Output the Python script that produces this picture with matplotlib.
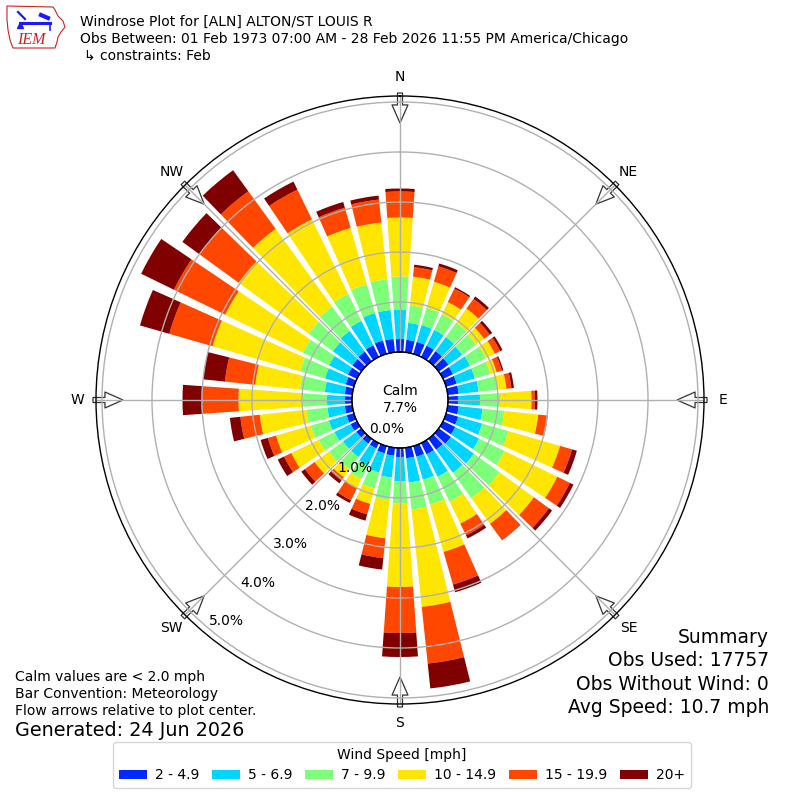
import numpy as np
import matplotlib
matplotlib.use("Agg")
import matplotlib.pyplot as plt
from matplotlib.patches import Patch, Polygon
from matplotlib.transforms import offset_copy

# ---------------- data (percent of observations) ----------------
directions = list(range(0, 360, 10))
speed_bins = ["2 - 4.9", "5 - 6.9", "7 - 9.9", "10 - 14.9", "15 - 19.9", "20+"]

freq_2_5 = [0.26, 0.25, 0.25, 0.25, 0.25, 0.24, 0.22, 0.22, 0.22, 0.20, 0.22, 0.25,
            0.27, 0.30, 0.27, 0.25, 0.22, 0.21, 0.18, 0.16, 0.15, 0.12, 0.12, 0.12,
            0.14, 0.15, 0.15, 0.14, 0.15, 0.17, 0.20, 0.22, 0.24, 0.26, 0.28, 0.27]
freq_5_7 = [0.59, 0.34, 0.35, 0.35, 0.35, 0.34, 0.38, 0.38, 0.40, 0.44, 0.48, 0.50,
            0.53, 0.57, 0.57, 0.50, 0.48, 0.49, 0.49, 0.44, 0.40, 0.38, 0.33, 0.33,
            0.36, 0.37, 0.35, 0.36, 0.40, 0.43, 0.42, 0.48, 0.51, 0.54, 0.57, 0.58]
freq_7_10 = [0.66, 0.35, 0.36, 0.35, 0.35, 0.34, 0.35, 0.32, 0.38, 0.40, 0.44, 0.55,
             0.57, 0.63, 0.63, 0.55, 0.52, 0.54, 0.44, 0.45, 0.33, 0.30, 0.30, 0.35,
             0.35, 0.38, 0.42, 0.50, 0.50, 0.52, 0.58, 0.60, 0.60, 0.60, 0.60, 0.62]
freq_10_15 = [1.18, 0.58, 0.54, 0.27, 0.35, 0.20, 0.20, 0.13, 0.18, 0.63, 0.68, 1.07,
              1.17, 0.85, 0.63, 0.49, 0.98, 1.96, 1.67, 0.77, 0.32, 0.20, 0.20, 0.35,
              0.61, 0.72, 0.94, 1.27, 0.90, 1.82, 1.73, 1.73, 1.92, 1.66, 1.17, 1.14]
freq_15_20 = [0.52, 0.19, 0.32, 0.30, 0.24, 0.14, 0.12, 0.11, 0.10, 0.07, 0.18, 0.25,
              0.28, 0.37, 0.40, 0.26, 0.68, 1.14, 0.92, 0.40, 0.22, 0.27, 0.08, 0.24,
              0.16, 0.17, 0.39, 0.74, 0.61, 0.90, 1.14, 0.97, 0.93, 0.66, 0.42, 0.46]
freq_20p = [0.06, 0.05, 0.06, 0.03, 0.06, 0.06, 0.05, 0.03, 0.05, 0.05, 0.01, 0.10,
            0.08, 0.08, 0.01, 0.07, 0.16, 0.50, 0.48, 0.23, 0.13, 0.06, 0.07, 0.09,
            0.14, 0.15, 0.21, 0.38, 0.44, 0.61, 0.73, 0.42, 0.52, 0.18, 0.12, 0.08]

series = [freq_2_5, freq_5_7, freq_7_10, freq_10_15, freq_15_20, freq_20p]
calm_pct = 7.7
r_ticks = [0, 1, 2, 3, 4, 5]
compass_angles = [0, 45, 90, 135, 180, 225, 270, 315]
compass_labels = ["N", "NE", "E", "SE", "S", "SW", "W", "NW"]

colors = plt.cm.jet(np.linspace(0, 1, 7)[1:])

# ---------------- figure ----------------
fig = plt.figure(figsize=(8, 8), dpi=100)
ax = fig.add_axes([0.12, 0.12, 0.76, 0.76], projection="polar")
ax.set_theta_zero_location("N")
ax.set_theta_direction(-1)
ax.set_ylim(0, 5.12)
ax.set_rorigin(-0.96)

theta = np.deg2rad(directions)
width = np.deg2rad(8)
bottom = np.zeros(len(directions))
for vals, col in zip(series, colors):
    vals = np.asarray(vals)
    ax.bar(theta, vals, width=width, bottom=bottom, color=col,
           linewidth=0, zorder=1, align="center")
    bottom = bottom + vals

ax.set_xticks(np.deg2rad(compass_angles))
ax.set_xticklabels([])
ax.set_yticks(r_ticks[1:])
ax.set_yticklabels([])
ax.grid(True, color="#b0b0b0", linewidth=1.0)
ax.tick_params(length=0)
ax.spines["polar"].set_color("black")
ax.spines["polar"].set_linewidth(1.0)

# calm hub
tt = np.linspace(0, 2 * np.pi, 361)
ax.plot(tt, np.zeros_like(tt), color="black", lw=1.0, zorder=3, clip_on=False)
tr_calm1 = offset_copy(ax.transAxes, fig=fig, x=0, y=9, units="dots")
tr_calm2 = offset_copy(ax.transAxes, fig=fig, x=0, y=-8, units="dots")
ax.text(0.5, 0.5, "Calm", transform=tr_calm1, ha="center", va="center", fontsize=10, zorder=6)
ax.text(0.5, 0.5, f"{calm_pct:.1f}%", transform=tr_calm2, ha="center", va="center", fontsize=10, zorder=6)

# radial labels
lab_tr = offset_copy(ax.transData, fig=fig, x=6.6, y=-5.6, units="dots")
for k in r_ticks:
    ax.text(np.deg2rad(220), k - 0.34, f"{k:.1f}%", transform=lab_tr,
            ha="center", va="center", fontsize=10, zorder=6)

# compass labels and flow arrows
for ang, lab in zip(compass_angles, compass_labels):
    t = np.deg2rad(ang)
    ax.text(t, 5.5, lab, ha="center", va="center", fontsize=10, clip_on=False)
    ax.annotate("", xy=(t, 4.58), xytext=(t, 5.18),
                arrowprops=dict(arrowstyle="simple,head_length=1.3,head_width=1.15,tail_width=0.36",
                                fc="white", ec="#333333", lw=0.9, shrinkA=0, shrinkB=0),
                annotation_clip=False, zorder=1.4)

# ---------------- texts ----------------
def px(x, y):
    return x / 800.0, 1 - y / 800.0

fig.text(*px(80, 26), "Windrose Plot for [ALN] ALTON/ST LOUIS R", fontsize=10, va="baseline")
fig.text(*px(80, 43.3), "Obs Between: 01 Feb 1973 07:00 AM - 28 Feb 2026 11:55 PM America/Chicago",
         fontsize=10, va="baseline")
fig.text(*px(84, 60), "\u21b3 constraints: Feb", fontsize=10, va="baseline")

fig.text(*px(15, 681), "Calm values are < 2.0 mph", fontsize=10, va="baseline")
fig.text(*px(15, 698), "Bar Convention: Meteorology", fontsize=10, va="baseline")
fig.text(*px(15, 715), "Flow arrows relative to plot center.", fontsize=10, va="baseline")
fig.text(*px(15, 736), "Generated: 24 Jun 2026", fontsize=13.8, va="baseline")

for yy, s in zip([643, 666.5, 690, 713], ["Summary", "Obs Used: 17757", "Obs Without Wind: 0",
                                           "Avg Speed: 10.7 mph"]):
    fig.text(*px(769, yy), s, fontsize=13.5, va="baseline", ha="right")

# legend
handles = [Patch(facecolor=c, edgecolor="none") for c in colors]
fig.legend(handles, speed_bins, loc="center", bbox_to_anchor=px(402, 765), ncol=6,
           title="Wind Speed [mph]", fontsize=10, title_fontsize=10,
           columnspacing=0.9, handletextpad=0.6, frameon=True, fancybox=True,
           edgecolor="#cccccc")

# ---------------- IEM logo ----------------
lax = fig.add_axes([0, 1 - 52 / 800, 70 / 800, 52 / 800])
lax.set_xlim(0, 70)
lax.set_ylim(52, 0)
lax.axis("off")
iowa = [(7, 6), (53, 7), (55, 10), (58, 16), (63, 21), (65, 27), (61, 32), (58, 37),
        (57, 42), (55, 48), (13, 48), (10, 40), (8, 30), (7, 20), (7, 6)]
lax.add_patch(Polygon(iowa, closed=True, fill=False, ec="#cc2222", lw=0.8))
lax.plot([20, 50], [23, 23], color="#1a1aff", lw=2.2)
lax.plot([18, 25], [12, 19], color="#1a1aff", lw=1.6)
lax.plot([41, 48], [15, 18], color="#1a1aff", lw=3)
lax.plot([50, 50], [23, 30], color="#1a1aff", lw=1.2)
lax.plot([20], [25], marker="^", color="#1a1aff", ms=4)
lax.text(31, 40, "IEM", color="#cc2222", fontsize=11.5, style="italic",
         family=["Liberation Serif", "DejaVu Serif"], ha="center", va="center")

fig.savefig("out.png", dpi=100)
